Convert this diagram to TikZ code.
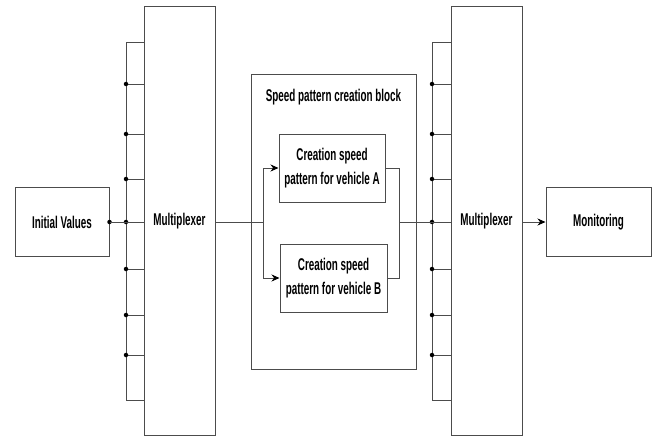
\documentclass[tikz,border=0pt]{standalone}
\usepackage{fontspec}
\setmainfont{Liberation Sans}[FakeStretch=0.58]
\usetikzlibrary{arrows.meta}

\begin{document}
\begin{tikzpicture}[>={Stealth[length=8pt,width=7pt,black]}, x=1pt, y=-1pt,
    line width=1pt, draw=black!70,
    blk/.style={draw=black!70, fill=white, inner sep=0pt, align=center,
      font=\fontsize{17}{23.5}\selectfont\bfseries},
    lbl/.style={inner sep=0pt, font=\fontsize{17}{23.5}\selectfont\bfseries},
    dot/.style={circle, fill=black, inner sep=0pt, minimum size=4.5pt}]
  \useasboundingbox (0,0) rectangle (652,436);
  % outer blocks
  \node[blk, minimum width=94pt, minimum height=69pt] (init) at (62,222) {Initial Values};
  \node[blk, minimum width=71pt, minimum height=428pt] (muxL) at (179.5,221) {Multiplexer};
  \node[blk, minimum width=165pt, minimum height=295pt] (block) at (333.5,221.5) {};
  \node[lbl] (title) at (333.5,97) {Speed pattern creation block};
  \node[blk, minimum width=106pt, minimum height=68pt] (boxA) at (332,168) {Creation speed\\pattern for vehicle A};
  \node[blk, minimum width=107pt, minimum height=68pt] (boxB) at (333.5,278) {Creation speed\\pattern for vehicle B};
  \node[blk, minimum width=71pt, minimum height=428pt] (muxR) at (486.5,221) {Multiplexer};
  \node[blk, minimum width=105pt, minimum height=69pt] (mon) at (598.5,222) {Monitoring};
  \coordinate (split) at (263,222);
  \coordinate (join) at (399,222);
  % input buses of both multiplexers
  \foreach \bx/\mux in {126/muxL, 432/muxR}{
    \draw (\bx,43) -- (\bx,400);
    \foreach \y in {43,84,134,179,222,269,315,355,400}{
      \draw (\bx,\y) -- (\mux.west |- 0,\y);
    }
    \foreach \y in {84,134,179,222,269,315,355}{
      \node[dot] at (\bx,\y) {};
    }
  }
  % signal path
  \node[dot] at (init.east) {};
  \draw (init.east) -- (muxL.west |- init.east);
  \draw (muxL.east |- split) -- (split);
  \draw[->] (split) |- (boxA.west);
  \draw[->] (split) |- (boxB.west);
  \draw (boxA.east) -| (join);
  \draw (boxB.east) -| (join);
  \draw (join) -- (muxR.west |- join);
  \draw[->] (muxR.east |- mon.west) -- (mon.west);
\end{tikzpicture}
\end{document}
